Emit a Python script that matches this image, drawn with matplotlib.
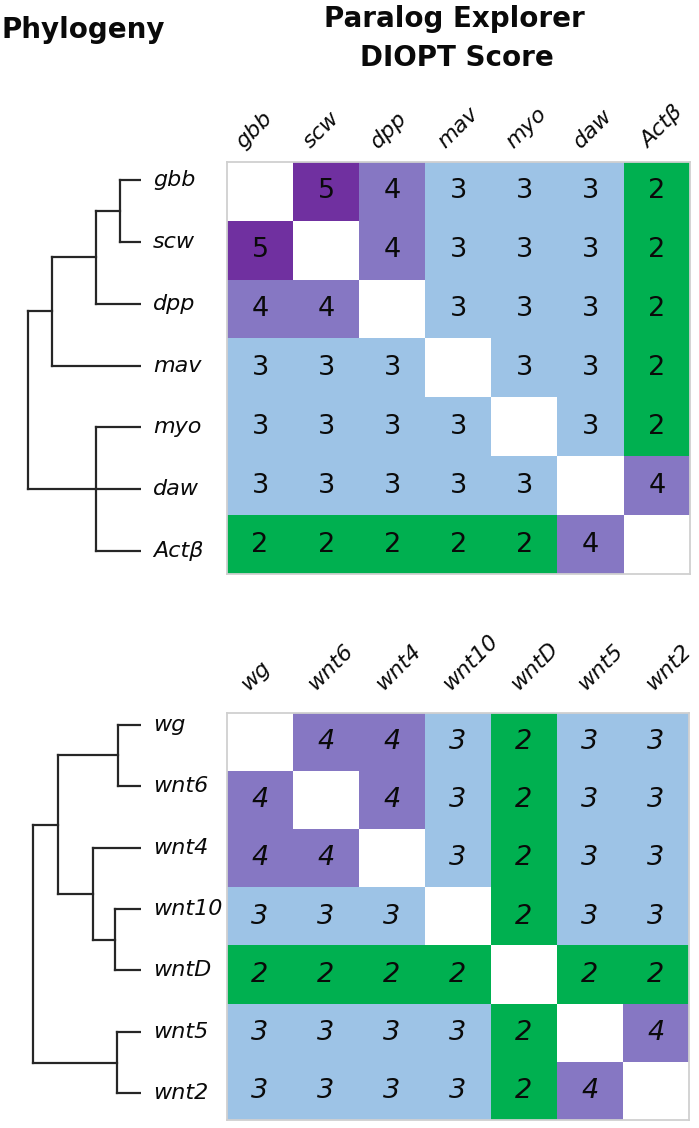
import numpy as np
import matplotlib
matplotlib.use("Agg")
import matplotlib.pyplot as plt
from matplotlib.colors import to_rgb

# ---------------- data ----------------
tgf_genes = ["gbb", "scw", "dpp", "mav", "myo", "daw", "Actβ"]
tgf_scores = [
    [None, 5, 4, 3, 3, 3, 2],
    [5, None, 4, 3, 3, 3, 2],
    [4, 4, None, 3, 3, 3, 2],
    [3, 3, 3, None, 3, 3, 2],
    [3, 3, 3, 3, None, 3, 2],
    [3, 3, 3, 3, 3, None, 4],
    [2, 2, 2, 2, 2, 4, None],
]

wnt_genes = ["wg", "wnt6", "wnt4", "wnt10", "wntD", "wnt5", "wnt2"]
wnt_scores = [
    [None, 4, 4, 3, 2, 3, 3],
    [4, None, 4, 3, 2, 3, 3],
    [4, 4, None, 3, 2, 3, 3],
    [3, 3, 3, None, 2, 3, 3],
    [2, 2, 2, 2, None, 2, 2],
    [3, 3, 3, 3, 2, None, 4],
    [3, 3, 3, 3, 2, 4, None],
]

# trees: (branch depth, children); leaves are gene names
tgf_tree = (113, [(89, [(45, [(21, ["gbb", "scw"]), "dpp"]), "mav"]),
                  (45, ["myo", "daw", "Actβ"])])
wnt_tree = (108, [(83, [(23, ["wg", "wnt6"]),
                        (48, ["wnt4", (26, ["wnt10", "wntD"])])]),
                  (24, ["wnt5", "wnt2"])])

score_colors = {5: "#7030A0", 4: "#8677C3", 3: "#9DC3E6", 2: "#00B050"}

# ---------------- figure ----------------
W, H = 699, 1128
fig = plt.figure(figsize=(W / 100, H / 100), dpi=100)
TXT = "#0a0a0a"


def box(x0, y0, x1, y1):
    return [x0 / W, 1 - y1 / H, (x1 - x0) / W, (y1 - y0) / H]


def draw_tree(ax, tree, genes):
    def rec(node):
        if isinstance(node, str):
            return genes.index(node), 0
        depth, children = node
        pts = [rec(c) for c in children]
        ys = [p[0] for p in pts]
        ax.plot([depth, depth], [min(ys), max(ys)], color="#262626", lw=1.6,
                solid_capstyle="projecting")
        for y, d in pts:
            ax.plot([depth, d], [y, y], color="#262626", lw=1.6,
                    solid_capstyle="projecting")
        return float(np.mean(ys)), depth
    rec(tree)


def dendro_panel(rect, tree, genes):
    ax = fig.add_axes(rect)
    draw_tree(ax, tree, genes)
    ax.set_xlim(141, 0)
    ax.set_ylim(len(genes) - 0.5, -0.5)
    ax.axis("off")
    for i, g in enumerate(genes):
        ax.text(-12, i, g, ha="left", va="center", fontsize=16,
                style="italic", color=TXT, clip_on=False)
    return ax


def matrix_panel(rect, genes, scores, italic):
    ax = fig.add_axes(rect)
    n = len(genes)
    img = np.ones((n, n, 3))
    for i in range(n):
        for j in range(n):
            v = scores[i][j]
            if v is not None:
                img[i, j] = to_rgb(score_colors[v])
    ax.imshow(img, aspect="auto", interpolation="nearest")
    for i in range(n):
        for j in range(n):
            v = scores[i][j]
            if v is not None:
                ax.text(j, i, str(v), ha="center", va="center", fontsize=19.5,
                        style="italic" if italic else "normal", color=TXT)
    ax.set_xticks([])
    ax.set_yticks([])
    for s in ax.spines.values():
        s.set_color("#d0d0d0")
        s.set_linewidth(1.3)
    return ax


def column_labels(x_first, baseline, genes, step=67.5):
    n = len(genes)
    ax = fig.add_axes(box(x_first - step / 2, baseline - 1,
                          x_first - step / 2 + n * step, baseline))
    ax.set_xlim(-0.5, n - 0.5)
    ax.set_ylim(0, 1)
    ax.axis("off")
    for j, g in enumerate(genes):
        ax.text(j, 1, g, rotation=45, rotation_mode="anchor", ha="left",
                va="baseline", fontsize=16, style="italic", color=TXT,
                clip_on=False)


# top panel
matrix_panel(box(227, 162, 690, 574), tgf_genes, tgf_scores, False)
column_labels(243, 150, tgf_genes)
dendro_panel(box(0, 149, 141, 582), tgf_tree, tgf_genes)

# bottom panel
matrix_panel(box(227, 713, 689, 1120), wnt_genes, wnt_scores, True)
column_labels(248, 692, wnt_genes)
dendro_panel(box(0, 694, 141, 1124), wnt_tree, wnt_genes)

# titles
fig.text(2 / W, 1 - 38 / H, "Phylogeny", ha="left", va="baseline",
         fontsize=20, fontweight="bold", color=TXT)
fig.text(454 / W, 1 - 27 / H, "Paralog Explorer", ha="center", va="baseline",
         fontsize=20, fontweight="bold", color=TXT)
fig.text(457 / W, 1 - 66 / H, "DIOPT Score", ha="center", va="baseline",
         fontsize=20, fontweight="bold", color=TXT)

fig.savefig("out.png", dpi=100)
